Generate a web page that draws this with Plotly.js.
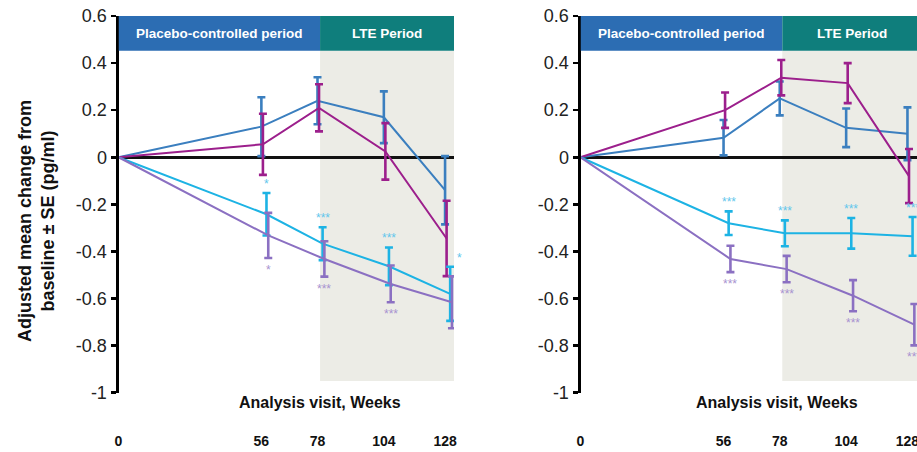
<!DOCTYPE html>
<html>
<head>
<meta charset="utf-8">
<script src="https://cdn.plot.ly/plotly-3.0.1.min.js"></script>
<style>
  html, body { margin: 0; padding: 0; overflow: hidden; background: #ffffff; }
  #chart { width: 960px; height: 452px; }
</style>
</head>
<body>
<div id="chart"></div>
<script>
// ---------- data ----------
const weeks = [0, 56, 78, 104, 128];
const weekLabels = ['0', '56', '78', '104', '128'];
const yTickVals = [0.6, 0.4, 0.2, 0, -0.2, -0.4, -0.6, -0.8, -1];
const yTickText = ['0.6', '0.4', '0.2', '0', '-0.2', '-0.4', '-0.6', '-0.8', '-1'];

// Left panel
const leftBlue = [0, 0.13, 0.24, 0.17, -0.14];
const leftBlueSE = [0, 0.125, 0.10, 0.11, 0.145];
const leftMagenta = [0, 0.055, 0.21, 0.025, -0.345];
const leftMagentaSE = [0, 0.13, 0.10, 0.12, 0.16];
const leftCyan = [0, -0.242, -0.367, -0.463, -0.58];
const leftCyanSE = [0, 0.09, 0.07, 0.08, 0.115];
const leftPurple = [0, -0.332, -0.432, -0.538, -0.616];
const leftPurpleSE = [0, 0.096, 0.075, 0.078, 0.11];
const leftCyanSig = ['', '*', '***', '***', '*'];
const leftPurpleSig = ['', '*', '***', '***', ''];

// Right panel
const rightBlue = [0, 0.083, 0.25, 0.125, 0.10];
const rightBlueSE = [0, 0.075, 0.072, 0.082, 0.112];
const rightMagenta = [0, 0.20, 0.338, 0.315, -0.08];
const rightMagentaSE = [0, 0.075, 0.075, 0.085, 0.115];
const rightCyan = [0, -0.28, -0.323, -0.323, -0.336];
const rightCyanSE = [0, 0.05, 0.055, 0.065, 0.082];
const rightPurple = [0, -0.432, -0.475, -0.588, -0.711];
const rightPurpleSE = [0, 0.056, 0.056, 0.066, 0.088];
const rightCyanSig = ['', '***', '***', '***', '***'];
const rightPurpleSig = ['', '***', '***', '***', '***'];

const periodLabels = ['Placebo-controlled period', 'LTE Period'];

// ---------- style ----------
const COL = { blue: '#3B7FBF', magenta: '#9C1F8C', cyan: '#1DB3E4', purple: '#8B70C2' };
const SIGCOL = { cyan: '#62C6EC', purple: '#A893D0' };
const DODGE = { blue: 0, magenta: 0.6, cyan: 2.0, purple: 2.7 };
const FONT = 'Liberation Sans, Arial, sans-serif';
const W = 960, H = 452;
const LTE_START = 79;
const HEADER_BOTTOM = 0.452;
const SHADE_BOTTOM = -0.95;
const leftRangeEnd = 131.5, rightRangeEnd = 133.3;

function xs(key) { return weeks.map((w, i) => i === 0 ? 0 : w + DODGE[key]); }
function seArr(a) { return a.map(v => v === 0 ? NaN : v); }

function trace(key, vals, se, xa, ya) {
  return {
    type: 'scatter', mode: 'lines', x: xs(key), y: vals, xaxis: xa, yaxis: ya,
    line: { color: COL[key], width: 2 },
    error_y: { type: 'data', array: seArr(se), visible: true, color: COL[key], thickness: 2.6, width: 4 },
    cliponaxis: false, showlegend: false, hoverinfo: 'skip'
  };
}

const data = [
  trace('blue', leftBlue, leftBlueSE, 'x', 'y'),
  trace('magenta', leftMagenta, leftMagentaSE, 'x', 'y'),
  trace('cyan', leftCyan, leftCyanSE, 'x', 'y'),
  trace('purple', leftPurple, leftPurpleSE, 'x', 'y'),
  trace('blue', rightBlue, rightBlueSE, 'x2', 'y2'),
  trace('magenta', rightMagenta, rightMagentaSE, 'x2', 'y2'),
  trace('cyan', rightCyan, rightCyanSE, 'x2', 'y2'),
  trace('purple', rightPurple, rightPurpleSE, 'x2', 'y2')
];

const annotations = [];
const shapes = [];

function panelDecor(xr, yr, rangeEnd) {
  shapes.push({ type: 'rect', xref: xr, yref: yr, x0: LTE_START, x1: rangeEnd, y0: SHADE_BOTTOM, y1: HEADER_BOTTOM,
    fillcolor: '#ECECE6', line: { width: 0 }, layer: 'below' });
  shapes.push({ type: 'rect', xref: xr, yref: yr, x0: 0, x1: LTE_START, y0: HEADER_BOTTOM, y1: 0.6,
    fillcolor: '#2C6DB3', line: { width: 0 }, layer: 'above' });
  shapes.push({ type: 'rect', xref: xr, yref: yr, x0: LTE_START, x1: rangeEnd, y0: HEADER_BOTTOM, y1: 0.6,
    fillcolor: '#0F7E7C', line: { width: 0 }, layer: 'above' });
  annotations.push({ xref: xr, yref: yr, x: LTE_START / 2, y: (HEADER_BOTTOM + 0.6) / 2, text: periodLabels[0],
    xanchor: 'center', yanchor: 'middle',
    showarrow: false, font: { family: FONT, size: 13.5, color: '#ffffff', weight: 'bold' } });
  annotations.push({ xref: xr, yref: yr, x: (LTE_START + rangeEnd) / 2, y: (HEADER_BOTTOM + 0.6) / 2, text: periodLabels[1],
    xanchor: 'center', yanchor: 'middle',
    showarrow: false, font: { family: FONT, size: 13.5, color: '#ffffff', weight: 'bold' } });
}
panelDecor('x', 'y', leftRangeEnd);
panelDecor('x2', 'y2', rightRangeEnd);

function sig(labels, key, vals, se, xr, yr, above, extra) {
  labels.forEach((t, i) => {
    if (!t) return;
    const a = {
      xref: xr, yref: yr, x: weeks[i] + DODGE[key], text: t, showarrow: false, xanchor: 'center',
      font: { family: FONT, size: 12, color: SIGCOL[key] }
    };
    if (above) { a.y = vals[i] + se[i]; a.yanchor = 'bottom'; a.yshift = 0; }
    else { a.y = vals[i] - se[i]; a.yanchor = 'top'; a.yshift = -3; }
    if (extra && extra[i]) Object.assign(a, extra[i]);
    annotations.push(a);
  });
}
sig(leftCyanSig, 'cyan', leftCyan, leftCyanSE, 'x', 'y', true, { 4: { xshift: 9 } });
sig(leftPurpleSig, 'purple', leftPurple, leftPurpleSE, 'x', 'y', false);
sig(rightCyanSig, 'cyan', rightCyan, rightCyanSE, 'x2', 'y2', true);
sig(rightPurpleSig, 'purple', rightPurple, rightPurpleSE, 'x2', 'y2', false);

// axis titles
annotations.push({ xref: 'paper', yref: 'paper', x: 319.5 / W, y: 1 - 402 / H, text: 'Analysis visit, Weeks',
  xanchor: 'center', yanchor: 'middle',
  showarrow: false, font: { family: FONT, size: 16, color: '#111', weight: 'bold' } });
annotations.push({ xref: 'paper', yref: 'paper', x: 777 / W, y: 1 - 402 / H, text: 'Analysis visit, Weeks',
  xanchor: 'center', yanchor: 'middle',
  showarrow: false, font: { family: FONT, size: 16, color: '#111', weight: 'bold' } });
annotations.push({ xref: 'paper', yref: 'paper', x: 37 / W, y: 1 - 221 / H, textangle: -90,
  xanchor: 'center', yanchor: 'middle',
  text: 'Adjusted mean change from<br>baseline ± SE (pg/ml)',
  showarrow: false, font: { family: FONT, size: 18, color: '#111', weight: 'bold' } });

const yDomain = [(H - 392.7) / H, (H - 16) / H];
function xAxis(domain, rangeEnd) {
  return {
    domain: domain, range: [0, rangeEnd], anchor: 'free', position: 1 - 431 / H,
    showline: false, showgrid: false, zeroline: false, ticks: '',
    tickmode: 'array', tickvals: weeks, ticktext: weekLabels,
    tickfont: { family: FONT, size: 14, color: '#111', weight: 'bold' }, fixedrange: true
  };
}
function yAxis(anchor) {
  return {
    domain: yDomain, range: [-1, 0.6], anchor: anchor,
    showline: true, linecolor: '#000', linewidth: 3,
    ticks: 'outside', ticklen: 5, tickwidth: 2.5, tickcolor: '#000',
    tickmode: 'array', tickvals: yTickVals, ticktext: yTickText,
    tickfont: { family: FONT, size: 18, color: '#222' },
    showgrid: false, zeroline: true, zerolinecolor: '#111', zerolinewidth: 3, fixedrange: true
  };
}

const layout = {
  width: W, height: H,
  margin: { l: 0, r: 0, t: 0, b: 0 },
  paper_bgcolor: '#ffffff', plot_bgcolor: 'rgba(0,0,0,0)',
  showlegend: false,
  xaxis: xAxis([118.5 / W, 454 / W], leftRangeEnd),
  yaxis: yAxis('x'),
  xaxis2: xAxis([580.5 / W, 921 / W], rightRangeEnd),
  yaxis2: yAxis('x2'),
  shapes: shapes,
  annotations: annotations
};

Plotly.newPlot('chart', data, layout, { displayModeBar: false, staticPlot: true });
</script>
</body>
</html>
